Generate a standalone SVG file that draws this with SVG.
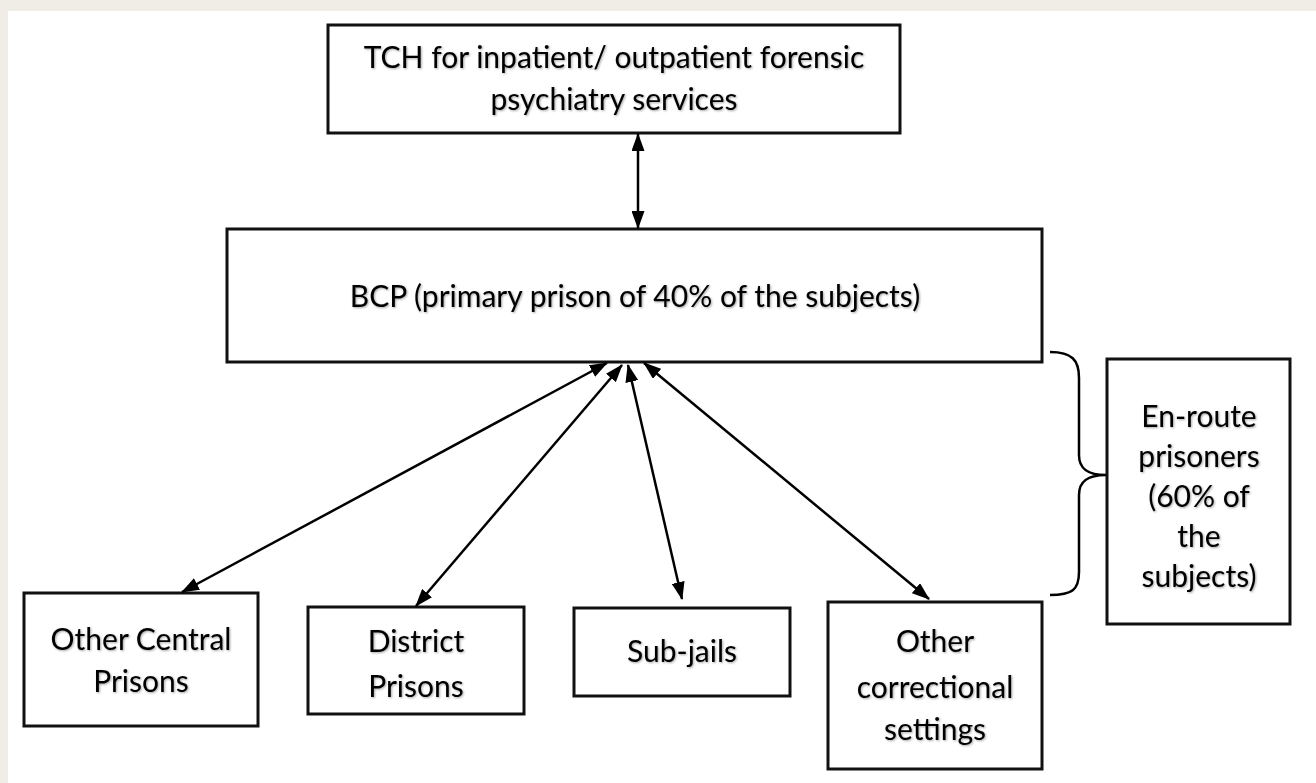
<svg xmlns="http://www.w3.org/2000/svg" width="1316" height="783" viewBox="0 0 1316 783">
<style>
.box{fill:#fff;stroke:#111;stroke-width:3}
.lbl{font-family:Lato,"Liberation Sans",sans-serif;font-size:30px;fill:#000;text-anchor:middle;filter:url(#sh)}
.con{stroke:#000;stroke-width:2.5;fill:none}
</style>
<defs>
<marker id="ah" viewBox="0 0 18 13" markerWidth="18" markerHeight="13" refX="17" refY="6.5" orient="auto-start-reverse" markerUnits="userSpaceOnUse">
<path d="M0,0 L18,6.5 L0,13 z" fill="#000"/>
</marker>
<filter id="sh" x="-5%" y="-20%" width="110%" height="140%">
<feDropShadow dx="1" dy="1" stdDeviation="0.8" flood-color="#000" flood-opacity="0.35"/>
</filter>
</defs>
<rect x="0" y="0" width="1316" height="783" fill="#f0ede6"/>
<rect x="8" y="11" width="1308" height="772" fill="#fff"/>
<g id="tch">
<rect class="box" x="328" y="25" width="572" height="108"/>
<text class="lbl" x="614" y="68">TCH for inpatient/ outpatient forensic</text>
<text class="lbl" x="614" y="110">psychiatry services</text>
</g>
<g id="bcp">
<rect class="box" x="227" y="229" width="815" height="133"/>
<text class="lbl" x="635" y="307">BCP (primary prison of 40% of the subjects)</text>
</g>
<g id="ocp">
<rect class="box" x="24" y="593" width="234" height="133"/>
<text class="lbl" x="141" y="650">Other Central</text>
<text class="lbl" x="141" y="692">Prisons</text>
</g>
<g id="dp">
<rect class="box" x="308" y="607" width="216" height="107"/>
<text class="lbl" x="416" y="652">District</text>
<text class="lbl" x="416" y="697">Prisons</text>
</g>
<g id="sj">
<rect class="box" x="574" y="608" width="216" height="88"/>
<text class="lbl" x="682" y="662">Sub-jails</text>
</g>
<g id="ocs">
<rect class="box" x="828" y="602" width="214" height="167"/>
<text class="lbl" x="935" y="652">Other</text>
<text class="lbl" x="935" y="698">correctional</text>
<text class="lbl" x="935" y="740">settings</text>
</g>
<g id="enroute">
<rect class="box" x="1107" y="359" width="183" height="265"/>
<text class="lbl" x="1199" y="427">En-route</text>
<text class="lbl" x="1199" y="467">prisoners</text>
<text class="lbl" x="1199" y="507">(60% of</text>
<text class="lbl" x="1199" y="547">the</text>
<text class="lbl" x="1199" y="587">subjects)</text>
</g>
<g id="connectors">
<line class="con" x1="638" y1="134" x2="638" y2="228" marker-start="url(#ah)" marker-end="url(#ah)"/>
<line class="con" x1="607" y1="363" x2="182" y2="592" marker-start="url(#ah)" marker-end="url(#ah)"/>
<line class="con" x1="622" y1="365" x2="416" y2="606" marker-start="url(#ah)" marker-end="url(#ah)"/>
<line class="con" x1="628" y1="365" x2="682" y2="599" marker-start="url(#ah)" marker-end="url(#ah)"/>
<line class="con" x1="644" y1="363" x2="929" y2="599" marker-start="url(#ah)" marker-end="url(#ah)"/>
<path class="con" d="M1050,352 C1072,352 1079,360 1079,378 L1079,455 C1079,469 1088,475 1106,475 C1088,475 1079,481 1079,495 L1079,572 C1079,590 1072,595 1050,595"/>
</g>
</svg>
